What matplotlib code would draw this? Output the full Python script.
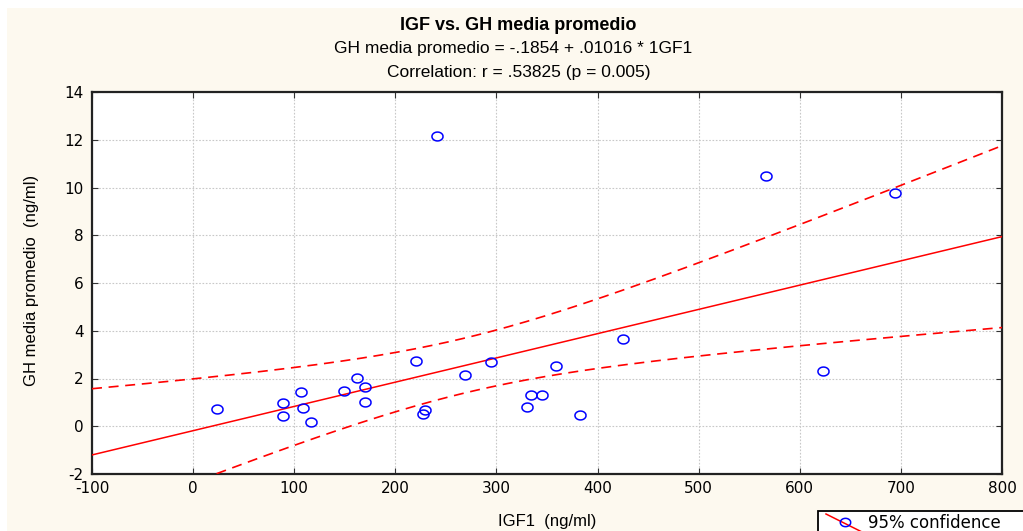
import numpy as np
import matplotlib
matplotlib.use('Agg')
import matplotlib.pyplot as plt
from matplotlib.lines import Line2D
from matplotlib.patches import Rectangle

# Data (IGF1 ng/ml vs GH media promedio ng/ml)
igf1 = [23.6, 89, 89, 106.7, 108.7, 116.6, 149, 162, 170, 170, 220.5, 241,
        227.4, 229.4, 269, 294.6, 330, 334, 345, 359, 382.7, 425, 566.7, 623, 694.3]
gh = [0.72, 0.97, 0.43, 1.43, 0.76, 0.18, 1.48, 2.02, 1.64, 1.00, 2.73, 12.16,
      0.51, 0.68, 2.15, 2.69, 0.80, 1.31, 1.31, 2.52, 0.47, 3.65, 10.48, 2.31, 9.77]

intercept = -0.1854
slope = 0.01016
t_crit = 2.069  # t(0.975, df=23)

plt.rcParams['axes.unicode_minus'] = False
narrow = ['Liberation Sans Narrow', 'Liberation Sans', 'DejaVu Sans']
tickfont = ['DejaVu Sans']

# slightly flattened open circle, as in the original export
th = np.linspace(0, 2 * np.pi, 40)
oval = np.c_[np.cos(th) * 1.25, np.sin(th)]

fig = plt.figure(figsize=(10.23, 5.31), dpi=100)
fig.patch.set_facecolor('white')
fig.add_artist(Rectangle((7 / 1023, 0), 1, 1 - 8 / 531, transform=fig.transFigure,
                         facecolor='#fdf9ef', edgecolor='none', zorder=-10))

ax = fig.add_axes([92 / 1023, 1 - 474 / 531, 910 / 1023, 382 / 531])
ax.set_facecolor('white')

x = np.array(igf1)
y = np.array(gh)
n = len(x)
resid = y - (intercept + slope * x)
s = np.sqrt(np.sum(resid ** 2) / (n - 2))
xm = x.mean()
sxx = np.sum((x - xm) ** 2)

xs = np.linspace(-100, 800, 200)
ys = intercept + slope * xs
half = t_crit * s * np.sqrt(1 / n + (xs - xm) ** 2 / sxx)

ax.plot(xs, ys, color='red', lw=1.1, zorder=3)
ax.plot(xs, ys + half, color='red', lw=1.2, dashes=(6, 4), zorder=3)
ax.plot(xs, ys - half, color='red', lw=1.2, dashes=(6, 4), zorder=3)
ax.plot(x, y, ls='none', marker=oval, mfc='none', mec='blue', ms=8, mew=1.1, zorder=4)

ax.set_xlim(-100, 800)
ax.set_ylim(-2, 14)
ax.set_xticks(range(-100, 801, 100))
ax.set_yticks(range(-2, 15, 2))
ax.grid(True, color='#c8c8c8', linestyle=(0, (1.5, 1.5)), lw=0.8)
ax.tick_params(direction='in', top=True, right=True, length=4, width=0.8, color='#333333')
ax.tick_params(axis='x', pad=5)
ax.tick_params(axis='y', pad=6)
for lab in ax.get_xticklabels() + ax.get_yticklabels():
    lab.set_fontfamily(tickfont)
    lab.set_fontsize(11)
for sp in ax.spines.values():
    sp.set_linewidth(1.6)
    sp.set_color('#222222')

ax.set_xlabel('IGF1  (ng/ml)', fontfamily=narrow, fontsize=12, labelpad=13)
fig.text(32 / 1023, 1 - 280 / 531, 'GH media promedio  (ng/ml)', rotation=90,
         ha='center', va='center', fontfamily=narrow, fontsize=12)

fig.text(0.507, 1 - 26 / 531, 'IGF vs. GH media promedio', ha='center', va='center',
         fontfamily=narrow, fontsize=13, fontweight='bold')
fig.text(0.502, 1 - 49 / 531, 'GH media promedio = -.1854 + .01016 * 1GF1', ha='center',
         va='center', fontfamily=narrow, fontsize=12.5)
fig.text(0.507, 1 - 72 / 531, 'Correlation: r = .53825 (p = 0.005)', ha='center',
         va='center', fontfamily=narrow, fontsize=12.5)

# legend box running off the bottom-right corner, as in the original
W, H = 1023, 531
fig.add_artist(Rectangle((818 / W, -0.05), 0.3, 0.05 + 1 - 511 / H, transform=fig.transFigure,
                         facecolor='white', edgecolor='black', lw=1.3, zorder=5))
fig.add_artist(Line2D([826 / W, 862 / W], [1 - 514 / H, 1 - 532 / H], color='red', lw=1.1,
                      transform=fig.transFigure, zorder=6))
fig.add_artist(Line2D([845 / W], [1 - 522 / H], marker=oval, mfc='none', mec='blue', ms=7.5,
                      mew=1.1, ls='none', transform=fig.transFigure, zorder=7))
fig.text(868 / W, 1 - 523 / H, '95% confidence', ha='left', va='center',
         fontfamily=tickfont, fontsize=12, zorder=8)

fig.savefig('out.png', dpi=100, facecolor=fig.get_facecolor())
